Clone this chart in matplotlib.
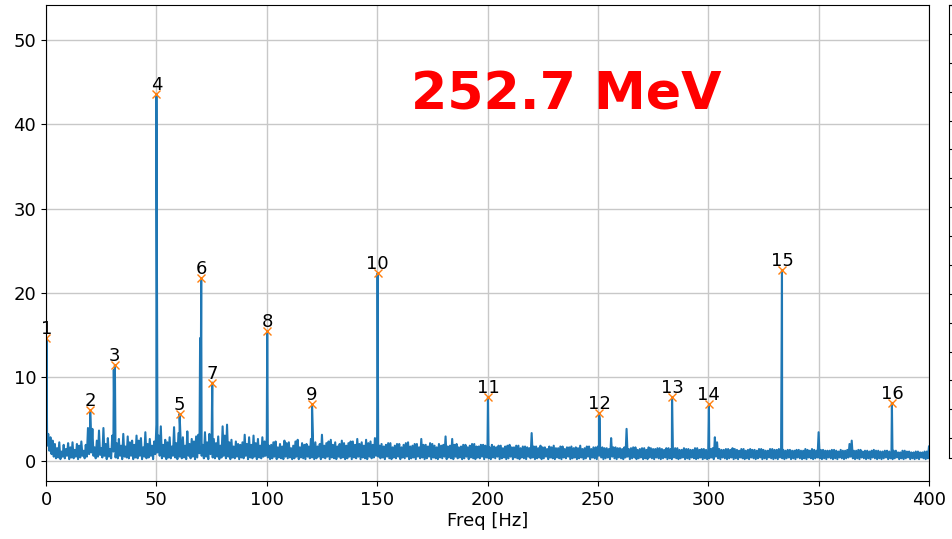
import numpy as np
import matplotlib.pyplot as plt

# ---------------- noise floor ----------------
# upper side of the noise band, read at every whole Hz (0..400)
noise_top = [
    3.6, 3.2, 2.8, 2.4, 2.0, 1.5, 2.2, 1.1, 1.9, 1.4, 2.1, 1.6, 2.2, 1.3, 2.0, 1.8, 2.3, 1.2, 1.9, 3.9,
    3.5, 3.8, 1.6, 2.4, 3.6, 1.5, 3.9, 2.0, 2.7, 1.4, 3.0, 3.2, 2.1, 2.6, 1.8, 3.2, 1.7, 2.9, 2.2, 2.4,
    1.9, 3.0, 2.4, 2.7, 1.6, 3.4, 2.0, 2.6, 1.8, 2.3, 4.3, 3.0, 4.1, 1.9, 2.5, 2.2, 2.8, 1.7, 4.0, 2.1,
    3.3, 2.4, 2.8, 1.8, 3.5, 2.0, 2.6, 2.3, 2.9, 3.1, 2.5, 1.9, 3.4, 2.2, 3.2, 2.0, 2.6, 2.1, 2.9, 1.8,
    4.1, 3.0, 4.3, 2.2, 2.5, 1.7, 2.3, 2.0, 1.9, 2.2, 3.1, 2.0, 2.8, 1.9, 3.0, 2.1, 2.6, 1.8, 2.8, 2.3,
    2.7, 1.8, 1.9, 2.2, 2.3, 1.6, 2.0, 1.7, 2.4, 2.1, 2.2, 1.5, 1.8, 2.3, 2.5, 1.6, 2.1, 1.9, 2.0, 1.7,
    2.6, 2.0, 2.2, 1.7, 2.0, 3.1, 1.8, 2.1, 2.3, 2.5, 1.9, 2.2, 1.7, 2.0, 2.4, 2.1, 1.8, 2.1, 2.3, 2.3,
    1.9, 2.6, 2.0, 2.2, 1.8, 2.5, 2.1, 2.3, 1.9, 2.7, 2.9, 1.8, 2.0, 1.7, 1.9, 2.1, 2.1, 1.6, 1.8, 2.0,
    2.0, 1.6, 1.9, 2.1, 2.2, 1.7, 1.8, 2.0, 2.0, 1.6, 2.6, 1.9, 1.9, 1.7, 2.1, 2.0, 1.8, 1.6, 2.0, 1.8,
    1.9, 2.9, 1.7, 1.8, 2.6, 1.9, 2.0, 1.6, 1.7, 1.9, 1.9, 1.6, 1.8, 2.0, 2.0, 1.7, 1.7, 1.9, 1.9, 1.8,
    1.8, 1.6, 1.9, 1.7, 1.6, 1.8, 1.8, 1.5, 1.7, 1.8, 1.9, 1.6, 1.6, 1.8, 1.8, 1.5, 1.7, 1.7, 1.6, 1.5,
    3.3, 1.7, 1.7, 1.5, 1.8, 1.6, 1.6, 1.4, 1.7, 1.6, 1.8, 1.5, 1.5, 1.7, 1.7, 1.4, 1.6, 1.6, 1.7, 1.5,
    1.6, 1.5, 1.8, 1.4, 1.5, 1.7, 1.7, 1.4, 1.6, 1.6, 1.7, 1.5, 1.6, 1.5, 1.5, 1.4, 2.7, 1.6, 1.6, 1.5,
    1.5, 1.4, 1.6, 3.8, 1.4, 1.5, 1.6, 1.6, 1.3, 1.4, 1.5, 1.5, 1.3, 1.6, 1.5, 1.4, 1.4, 1.5, 1.5, 1.4,
    1.3, 1.5, 1.5, 1.4, 1.3, 1.5, 1.5, 1.3, 1.3, 1.5, 1.4, 1.4, 1.3, 1.3, 1.5, 1.5, 1.3, 1.4, 1.4, 1.3,
    1.2, 1.4, 1.5, 2.8, 2.2, 1.4, 1.3, 1.3, 1.4, 1.4, 1.3, 1.5, 1.4, 1.3, 1.2, 1.4, 1.4, 1.2, 1.3, 1.4,
    1.3, 1.3, 1.2, 1.4, 1.4, 1.3, 1.2, 1.2, 1.4, 1.4, 1.3, 1.3, 1.4, 1.5, 1.3, 1.2, 1.3, 1.3, 1.2, 1.2,
    1.3, 1.3, 1.2, 1.2, 1.4, 1.3, 1.2, 1.4, 1.3, 1.2, 3.4, 1.3, 1.3, 1.2, 1.2, 1.2, 1.3, 1.3, 1.2, 1.1,
    1.3, 1.2, 1.2, 1.3, 2.0, 2.4, 1.2, 1.2, 1.3, 1.3, 1.1, 1.2, 1.2, 1.1, 1.2, 1.3, 1.2, 1.2, 1.1, 1.1,
    1.2, 1.2, 1.1, 1.1, 1.2, 1.2, 1.0, 1.0, 1.2, 1.2, 1.1, 1.1, 1.0, 1.0, 1.1, 1.1, 1.0, 1.0, 1.1, 1.1,
    1.7,
]
# lower side of the noise band, read at every half Hz (0.5..399.5)
noise_bottom = [
    1.8, 1.2, 0.8, 0.5, 0.3, 0.4, 0.2, 0.5, 0.3, 0.6, 0.2, 0.4, 0.3, 0.5, 0.2, 0.4, 0.6, 0.3, 0.5, 0.8,
    1.0, 0.6, 0.3, 0.5, 0.7, 0.4, 0.6, 0.2, 0.5, 0.3, 1.1, 0.4, 0.3, 0.6, 0.2, 0.5, 0.4, 0.3, 0.6, 0.2,
    0.4, 0.3, 0.6, 0.2, 0.5, 0.3, 0.4, 0.6, 0.2, 0.8, 1.0, 0.6, 0.3, 0.5, 0.2, 0.4, 0.3, 0.6, 0.4, 0.2,
    0.5, 0.3, 0.4, 0.2, 0.6, 0.3, 0.5, 0.2, 0.4, 0.9, 0.6, 0.3, 0.5, 0.2, 0.8, 0.4, 0.3, 0.5, 0.2, 0.4,
    0.6, 0.3, 0.5, 0.2, 0.4, 0.3, 0.5, 0.2, 0.4, 0.3, 0.6, 0.2, 0.4, 0.3, 0.5, 0.2, 0.4, 0.3, 0.5, 0.6,
    0.4, 0.2, 0.3, 0.5, 0.2, 0.4, 0.3, 0.2, 0.5, 0.3, 0.4, 0.2, 0.3, 0.5, 0.2, 0.4, 0.3, 0.2, 0.5, 0.3,
    0.4, 0.2, 0.3, 0.5, 0.2, 0.4, 0.3, 0.5, 0.2, 0.4, 0.3, 0.2, 0.5, 0.3, 0.4, 0.2, 0.3, 0.5, 0.2, 0.4,
    0.3, 0.5, 0.2, 0.4, 0.3, 0.2, 0.5, 0.3, 0.4, 0.6, 0.5, 0.3, 0.4, 0.2, 0.5, 0.3, 0.2, 0.4, 0.3, 0.5,
    0.2, 0.4, 0.3, 0.5, 0.2, 0.3, 0.4, 0.2, 0.5, 0.3, 0.4, 0.2, 0.3, 0.5, 0.2, 0.4, 0.3, 0.2, 0.4, 0.3,
    0.5, 0.2, 0.4, 0.3, 0.2, 0.5, 0.3, 0.4, 0.2, 0.3, 0.5, 0.2, 0.4, 0.3, 0.2, 0.4, 0.3, 0.5, 0.2, 0.4,
    0.3, 0.2, 0.4, 0.3, 0.5, 0.2, 0.3, 0.4, 0.2, 0.3, 0.5, 0.2, 0.4, 0.3, 0.2, 0.4, 0.3, 0.2, 0.5, 0.3,
    0.4, 0.2, 0.3, 0.4, 0.2, 0.3, 0.5, 0.2, 0.4, 0.3, 0.2, 0.4, 0.3, 0.2, 0.4, 0.3, 0.5, 0.2, 0.3, 0.4,
    0.2, 0.3, 0.4, 0.2, 0.3, 0.5, 0.2, 0.4, 0.3, 0.2, 0.6, 0.4, 0.2, 0.3, 0.4, 0.2, 0.5, 0.3, 0.2, 0.4,
    0.3, 0.2, 0.4, 0.5, 0.2, 0.3, 0.4, 0.2, 0.3, 0.4, 0.2, 0.3, 0.2, 0.4, 0.3, 0.2, 0.4, 0.3, 0.2, 0.3,
    0.4, 0.2, 0.3, 0.2, 0.4, 0.3, 0.2, 0.3, 0.4, 0.2, 0.3, 0.2, 0.4, 0.3, 0.2, 0.3, 0.4, 0.2, 0.3, 0.2,
    0.3, 0.4, 0.2, 0.5, 0.3, 0.2, 0.4, 0.3, 0.2, 0.3, 0.4, 0.2, 0.3, 0.2, 0.4, 0.3, 0.2, 0.3, 0.2, 0.4,
    0.3, 0.2, 0.3, 0.4, 0.2, 0.3, 0.2, 0.4, 0.3, 0.2, 0.3, 0.2, 0.4, 0.3, 0.2, 0.3, 0.4, 0.2, 0.3, 0.2,
    0.4, 0.3, 0.2, 0.3, 0.2, 0.4, 0.3, 0.2, 0.3, 0.4, 0.3, 0.2, 0.3, 0.2, 0.4, 0.3, 0.2, 0.3, 0.2, 0.4,
    0.3, 0.2, 0.3, 0.4, 0.5, 0.3, 0.2, 0.3, 0.2, 0.4, 0.3, 0.2, 0.3, 0.2, 0.4, 0.3, 0.2, 0.3, 0.2, 0.3,
    0.4, 0.2, 0.3, 0.2, 0.3, 0.4, 0.2, 0.3, 0.2, 0.3, 0.4, 0.2, 0.3, 0.2, 0.3, 0.2, 0.4, 0.3, 0.2, 0.3,
]

# ---------------- found peaks ----------------
peak_freq = [0.2, 20.0, 31.2, 50.0, 60.5, 70.3, 75.3, 100.2, 120.5,
             150.2, 200.2, 250.5, 283.6, 300.3, 333.4, 383.2]
peak_amp = [14.6, 6.0, 11.4, 43.6, 5.6, 21.7, 9.3, 15.4, 6.7,
            22.3, 7.6, 5.7, 7.6, 6.7, 22.7, 6.9]

# smaller side lines next to some peaks
spur_freq = [30.7, 69.8, 250.9]
spur_amp = [10.8, 14.6, 5.0]

top_freq = np.arange(len(noise_top))
bottom_freq = np.arange(len(noise_bottom)) + 0.5

freq = np.concatenate([top_freq, bottom_freq, peak_freq, spur_freq])
amp = np.concatenate([noise_top, noise_bottom, peak_amp, spur_amp])
order = np.argsort(freq, kind='stable')
freq, amp = freq[order], amp[order]

plt.rcParams['font.size'] = 13

fig = plt.figure(figsize=(9.53, 5.39), dpi=100)
ax = fig.add_axes([0.0483, 0.1076, 0.9265, 0.8831])

ax.plot(freq, amp, color='#1f77b4', lw=1.5)
ax.plot(peak_freq, peak_amp, 'x', color='#ff7f0e', ms=6)
for i, (f, a) in enumerate(zip(peak_freq, peak_amp)):
    ax.annotate(str(i + 1), (f, a), ha='center', va='bottom',
                fontsize=13, annotation_clip=False)

ax.text(165.5, 41.8, '252.7 MeV', color='red', fontsize=37.5,
        fontweight='bold', ha='left', va='baseline')

ax.set_xlim(0, 400)
ax.set_ylim(-2.4, 54.2)
ax.set_yticks([0, 10, 20, 30, 40, 50])
ax.set_xlabel('Freq [Hz]', labelpad=2)
ax.grid(color='#c8c8c8', lw=1)
ax.set_axisbelow(True)

# neighbouring panel, cut off at the right edge
ax2 = fig.add_axes([0.9958, 0.150, 0.2, 0.8407])
ax2.set_ylim(-0.69, 15)
ax2.set_yticks(range(16))
ax2.tick_params(axis='y', direction='in', labelleft=False, length=4)
ax2.set_xticks([])

fig.savefig('out.png', dpi=100)
